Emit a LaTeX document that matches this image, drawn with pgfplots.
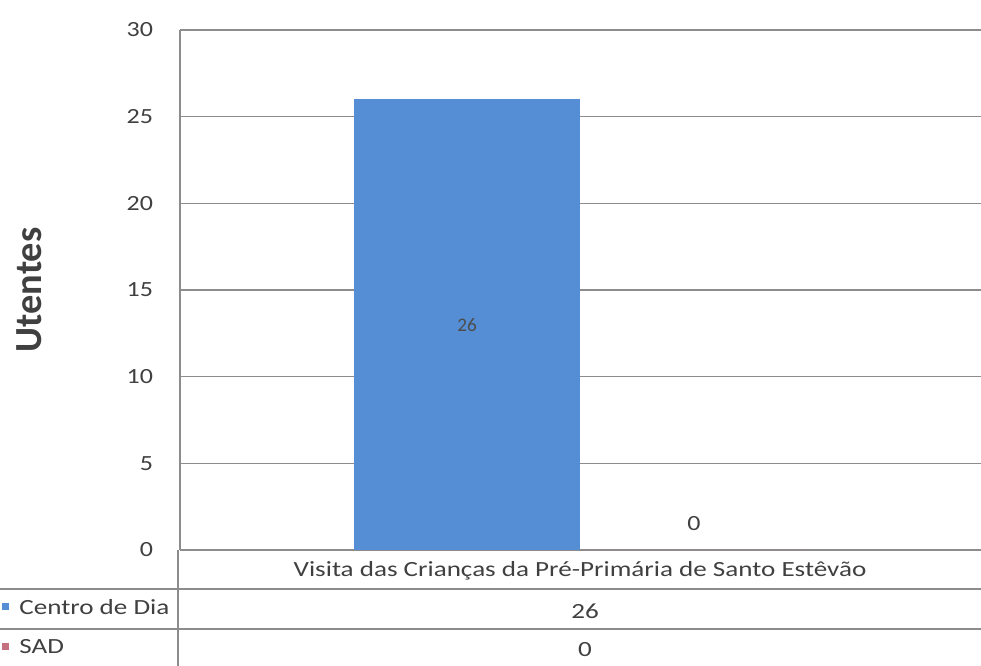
\documentclass[border=0pt]{standalone}
\usepackage{fontspec}
\setmainfont{Carlito}
\usepackage{pgfplots}
\pgfplotsset{compat=1.18}
\definecolor{cdia}{RGB}{85,142,213}
\definecolor{sad}{RGB}{196,112,128}
\definecolor{gridc}{RGB}{140,140,140}
\definecolor{txt}{RGB}{64,64,64}

\begin{document}
\begin{tikzpicture}[x=0.6pt,y=0.6pt]
\useasboundingbox (0,0) rectangle (981,666);
\begin{axis}[at={(108pt,69.6pt)},anchor=south west,scale only axis,
 width=480.6pt,height=312pt,
 xmin=0,xmax=1,ymin=0,ymax=30,ytick={0,5,...,30},xtick=\empty,
 axis x line=bottom,axis y line=left,
 axis line style={-,draw=gridc,line width=0.9pt},
 ymajorgrids,grid style={gridc,line width=0.8pt},
 major tick length=0pt,
 /pgf/number format/assume math mode=true,
 tick label style={font=\fontsize{13}{13}\selectfont,color=txt,xscale=1.2},
 yticklabel style={anchor=east,xshift=-10pt},
 clip=false]
\addplot[ybar,bar width=0.283,bar shift=-0.1415,fill=cdia,draw=none] coordinates {(0.5,26)};
\addplot[ybar,bar width=0.283,bar shift=0.1415,fill=sad,draw=none] coordinates {(0.5,0)};
% value labels: Centro de Dia at half its bar, SAD just above the baseline
\addplot[draw=none,mark=none,nodes near coords,point meta=explicit symbolic,
 nodes near coords style={font=\fontsize{11.5}{11.5}\selectfont,color=black!70,anchor=center}]
 coordinates {(0.3585,13) [26]};
\addplot[draw=none,mark=none,nodes near coords,point meta=explicit symbolic,
 nodes near coords style={font=\fontsize{13}{13}\selectfont,color=txt,anchor=south,yshift=8pt,xscale=1.2}]
 coordinates {(0.6415,0) [0]};
\end{axis}
\node[rotate=90,font=\bfseries\fontsize{23}{23}\selectfont,color=txt] at (29,376) {Utentes};
% data table under the axis
\draw[gridc,line width=0.9pt] (178,116) -- (178,0);
\draw[gridc,line width=0.9pt] (0,77) -- (981,77);
\draw[gridc,line width=0.9pt] (0,37) -- (981,37);
\begin{scope}[font=\fontsize{13}{13}\selectfont,text=txt,every node/.style={xscale=1.25}]
\node at (580,95) {Visita das Crianças da Pré-Primária de Santo Estêvão};
\node at (585,55) {26};
\node at (585,16) {0};
\node[anchor=west] at (12,59) {Centro de Dia};
\node[anchor=west] at (12,19) {SAD};
\end{scope}
\fill[cdia] (2,56) rectangle (9,63);
\fill[sad] (2,16) rectangle (9,23);
\end{tikzpicture}
\end{document}
